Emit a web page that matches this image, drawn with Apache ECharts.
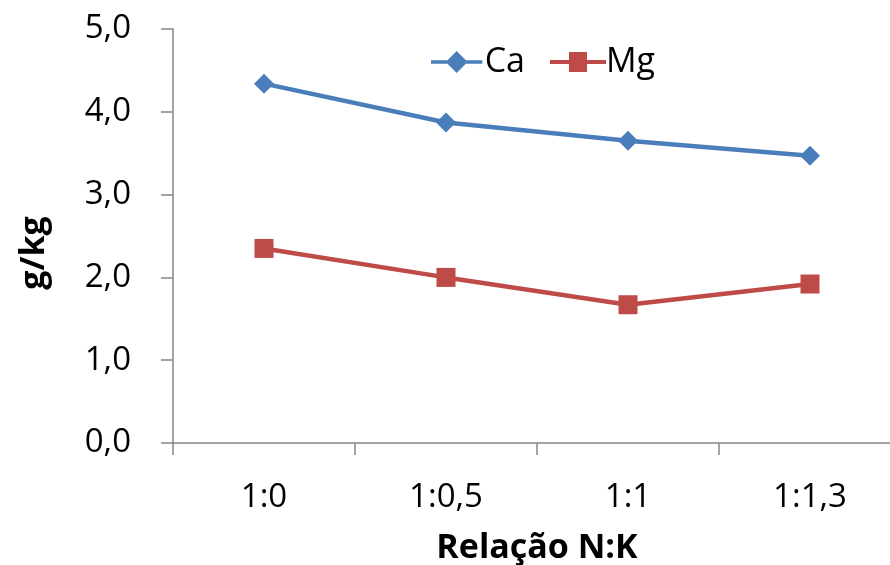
<!DOCTYPE html>
<html>
<head>
<meta charset="utf-8">
<script src="https://cdn.jsdelivr.net/npm/echarts@6/dist/echarts.min.js"></script>
<style>
  html, body { margin: 0; padding: 0; background: #fff; }
  #chart { width: 890px; height: 565px; }
</style>
</head>
<body>
<div id="chart"></div>
<script>
// data
const categories = ["1:0", "1:0,5", "1:1", "1:1,3"];
const caValues = [4.34, 3.87, 3.65, 3.47];
const mgValues = [2.35, 2.0, 1.67, 1.92];
const yTicks = [0, 1, 2, 3, 4, 5];

const axisGray = "#868686";
const fontFamily = "'Open Sans', sans-serif";

// legend icons: thick line with the marker in the middle (like the Excel legend)
const caIcon = "path://M0,8 L18,8 L28,-2 L38,8 L56,8 L56,12 L38,12 L28,22 L18,12 L0,12 Z";
const mgIcon = "path://M0,8 L19,8 L19,0 L37,0 L37,8 L56,8 L56,12 L37,12 L37,20 L19,20 L19,12 L0,12 Z";

const chart = echarts.init(document.getElementById("chart"), null, { renderer: "canvas" });

chart.setOption({
  backgroundColor: "#fff",
  animation: false,
  textStyle: { fontFamily: fontFamily },
  legend: {
    data: [
      { name: "Ca", icon: caIcon },
      { name: "Mg", icon: mgIcon },
    ],
    top: 40,
    left: 426,
    itemGap: 25,
    itemWidth: 56,
    itemHeight: 22,
    textStyle: { fontSize: 34, color: "#000", fontFamily: fontFamily, padding: [0, 0, 0, -5] },
  },
  grid: { left: 173, top: 29, width: 728, height: 414, outerBoundsMode: "none", containLabel: false },
  xAxis: {
    type: "category",
    data: categories,
    boundaryGap: true,
    axisLine: { lineStyle: { color: axisGray, width: 1.5 } },
    axisTick: { show: true, length: 12, alignWithLabel: false, lineStyle: { color: axisGray, width: 1.5 } },
    axisLabel: { fontSize: 33, color: "#000", margin: 38, fontFamily: fontFamily },
    name: "Relação N:K",
    nameLocation: "middle",
    nameGap: 88,
    nameTextStyle: { fontSize: 34, fontWeight: "bold", color: "#000", fontFamily: fontFamily },
  },
  yAxis: {
    type: "value",
    min: yTicks[0],
    max: yTicks[yTicks.length - 1],
    interval: 1,
    splitLine: { show: false },
    axisLine: { show: true, lineStyle: { color: axisGray, width: 1.5 } },
    axisTick: { show: true, length: 12, lineStyle: { color: axisGray, width: 1.5 } },
    axisLabel: {
      fontSize: 33,
      color: "#000",
      margin: 42,
      fontFamily: fontFamily,
      formatter: (v) => v.toFixed(1).replace(".", ","),
    },
    name: "g/kg",
    nameLocation: "middle",
    nameGap: 122,
    nameRotate: 90,
    nameTextStyle: {
      fontSize: 34,
      fontWeight: "bold",
      color: "#000",
      fontFamily: fontFamily,
      padding: [0, 34, 0, 0], // nudges the title a bit, as in the reference
    },
  },
  series: [
    {
      name: "Ca",
      type: "line",
      data: caValues,
      symbol: "diamond",
      symbolSize: 20,
      lineStyle: { color: "#4A7EBB", width: 4.5 },
      itemStyle: { color: "#4A7EBB" },
    },
    {
      name: "Mg",
      type: "line",
      data: mgValues,
      symbol: "rect",
      symbolSize: 19,
      lineStyle: { color: "#BE4B48", width: 4.5 },
      itemStyle: { color: "#BE4B48" },
    },
  ],
});
</script>
</body>
</html>
